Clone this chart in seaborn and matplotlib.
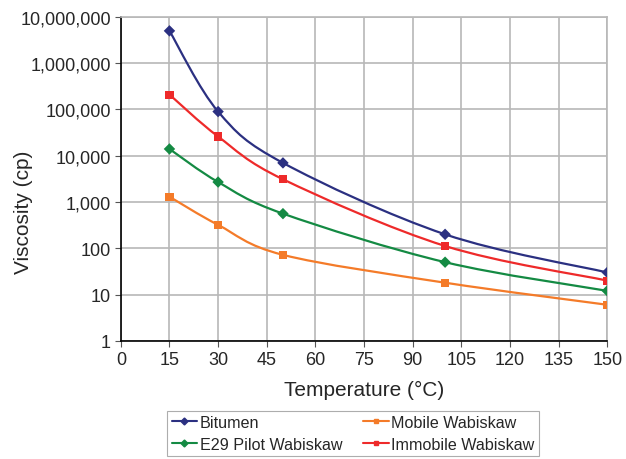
import numpy as np
import pandas as pd
import seaborn as sns
import matplotlib
matplotlib.use("Agg")
import matplotlib.pyplot as plt
from matplotlib.path import Path
from matplotlib.patches import PathPatch
from matplotlib.lines import Line2D
from matplotlib.ticker import FuncFormatter

# data
temperature = [15, 30, 50, 100, 150]
bitumen = [5000000, 90000, 7000, 200, 30]
mobile = [1300, 320, 72, 18, 6]
e29_pilot = [14000, 2700, 560, 50, 12]
immobile = [210000, 26000, 3100, 112, 20]

series_names = ["Bitumen", "Mobile Wabiskaw", "E29 Pilot Wabiskaw", "Immobile Wabiskaw"]
series_values = [bitumen, mobile, e29_pilot, immobile]
colors = ["#2B3081", "#F47B29", "#148A43", "#EE2A2A"]
markers = ["D", "s", "D", "s"]

rows = []
for name, vals in zip(series_names, series_values):
    for t, v in zip(temperature, vals):
        rows.append({"Temperature": t, "Viscosity": v, "Series": name})
df = pd.DataFrame(rows)

sns.set_style("white")
plt.rcParams["font.family"] = ["Liberation Sans", "DejaVu Sans"]

fig = plt.figure(figsize=(6.26, 4.6), dpi=100)
ax = fig.add_axes([0.193, 0.257, 0.777, 0.704])
ax.set_yscale("log")


def smooth_path(xs, ys):
    # excel-like smoothed line: cubic bezier segments built in (x, log y)
    px = np.array(xs, dtype=float)
    py = np.log10(np.array(ys, dtype=float))
    verts = [(px[0], py[0])]
    codes = [Path.MOVETO]
    n = len(px)
    for i in range(n - 1):
        p0 = (px[max(i - 1, 0)], py[max(i - 1, 0)])
        p1 = (px[i], py[i])
        p2 = (px[i + 1], py[i + 1])
        p3 = (px[min(i + 2, n - 1)], py[min(i + 2, n - 1)])
        c1 = (p1[0] + (p2[0] - p0[0]) / 6, p1[1] + (p2[1] - p0[1]) / 6)
        c2 = (p2[0] - (p3[0] - p1[0]) / 6, p2[1] - (p3[1] - p1[1]) / 6)
        verts += [c1, c2, p2]
        codes += [Path.CURVE4] * 3
    verts = [(x, 10 ** y) for x, y in verts]
    return Path(verts, codes)


for name, vals, c in zip(series_names, series_values, colors):
    ax.add_patch(PathPatch(smooth_path(temperature, vals), facecolor="none",
                           edgecolor=c, lw=1.6, zorder=3))

sns.scatterplot(data=df, x="Temperature", y="Viscosity", hue="Series", style="Series",
                palette=dict(zip(series_names, colors)),
                markers=dict(zip(series_names, markers)),
                s=34, edgecolor="none", legend=False, ax=ax, zorder=4)

ax.set_xlim(0, 150)
ax.set_ylim(1, 1e7)
ax.set_xticks(range(0, 151, 15))
ax.set_yticks([10 ** k for k in range(8)])
ax.yaxis.set_minor_locator(matplotlib.ticker.NullLocator())
ax.yaxis.set_major_formatter(FuncFormatter(lambda v, p: f"{v:,.0f}"))
ax.grid(True, color="#B8B8B8", lw=1.2)
ax.tick_params(axis="both", which="major", labelsize=13, length=4, width=0.8,
               direction="out", left=True, bottom=True, color="#555555", pad=3)

for side in ["top", "right"]:
    ax.spines[side].set_color("#B8B8B8")
    ax.spines[side].set_linewidth(1.2)
for side in ["left", "bottom"]:
    ax.spines[side].set_color("black")
    ax.spines[side].set_linewidth(1.2)

ax.set_xlabel("Temperature (°C)", fontsize=15, labelpad=9)
ax.set_ylabel("Viscosity (cp)", fontsize=15)
ax.yaxis.set_label_coords(-0.181, 0.40)

handles = [Line2D([0], [0], color=c, marker=m, markersize=3.5, lw=1.5)
           for c, m in zip(colors, markers)]
# column-wise fill: Bitumen / E29 in column 1, Mobile / Immobile in column 2
order = [0, 2, 1, 3]
leg = fig.legend([handles[i] for i in order], [series_names[i] for i in order],
                 loc="lower center", bbox_to_anchor=(0.564, 0.0065), ncol=2,
                 fontsize=11.6, frameon=True, fancybox=False, handlelength=1.6,
                 handletextpad=0.15, columnspacing=1.3, borderpad=0.25,
                 labelspacing=0.45, borderaxespad=0)
leg.get_frame().set_edgecolor("#999999")
leg.get_frame().set_linewidth(0.8)

fig.savefig("out.png", dpi=100)
